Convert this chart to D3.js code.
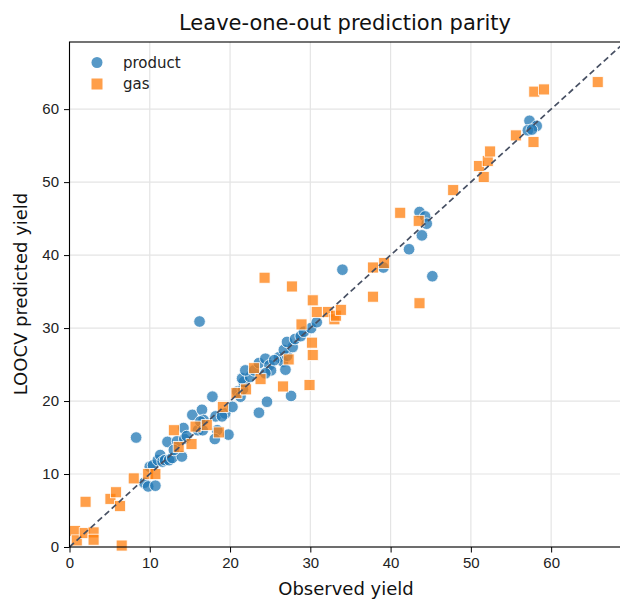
<!DOCTYPE html>
<html>
<head>
<meta charset="utf-8">
<script src="https://cdn.jsdelivr.net/npm/d3@7"></script>
<style>
  body { margin: 0; background: #fff; }
  svg { font-family: "DejaVu Sans", sans-serif; }
</style>
</head>
<body>
<svg id="chart" width="620" height="599"></svg>
<script>
// observed / predicted pairs
var productObs = [8.3, 9.3, 9.8, 10.7, 10.0, 10.4, 11.0, 11.3, 11.6, 11.9, 12.4, 12.8, 12.2, 13.4, 14.0, 14.3, 14.2, 14.6, 15.3, 16.0,
    16.5, 16.7, 16.3, 16.6, 17.8, 18.2, 19.4, 18.4, 18.1, 19.8, 20.3, 20.9, 21.3, 21.6, 21.7, 21.5, 22.5, 21.9, 23.0, 23.6,
    24.4, 24.9, 25.1, 24.4, 23.6, 24.6, 26.1, 26.6, 27.1, 26.9, 27.6, 26.7, 27.8, 27.1, 28.1, 28.8, 29.2, 30.1, 30.8, 16.2,
    34.0, 39.1, 42.3, 43.9, 43.6, 44.3, 44.5, 45.2, 57.3, 58.2, 57.1, 57.6, 19.0, 13.0, 25.5];
var productPred = [15.0, 8.8, 8.3, 8.4, 11.0, 11.2, 11.9, 12.6, 11.7, 11.9, 11.9, 12.2, 14.4, 14.5, 12.4, 14.8, 16.3, 15.2, 18.1, 16.0,
    18.8, 17.4, 17.2, 16.0, 20.6, 17.9, 18.3, 16.0, 14.8, 15.4, 19.2, 21.3, 20.6, 21.6, 22.6, 23.1, 23.3, 24.2, 24.2, 25.2,
    25.8, 24.9, 24.2, 23.8, 18.4, 19.9, 26.0, 25.4, 26.2, 24.3, 20.7, 27.0, 27.4, 28.1, 28.5, 28.9, 29.5, 30.0, 30.8, 30.9,
    38.0, 38.3, 40.8, 42.7, 45.9, 45.3, 44.3, 37.1, 58.4, 57.7, 57.1, 57.2, 17.9, 13.3, 25.6];

var gasObs = [0.7, 0.9, 1.9, 3.0, 3.0, 6.5, 2.0, 5.1, 5.8, 6.3, 8.0, 9.8, 10.7, 13.0, 13.6, 15.2, 15.7, 17.1, 18.6, 19.1,
    20.8, 22.0, 23.0, 23.8, 26.6, 27.3, 29.9, 30.2, 30.3, 28.9, 24.3, 27.7, 30.3, 30.8, 32.2, 33.0, 33.2, 33.8, 37.8, 39.2,
    37.8, 43.6, 41.2, 43.5, 47.8, 51.0, 51.6, 52.1, 52.4, 55.6, 57.8, 57.9, 59.1, 65.8];
var gasPred = [2.2, 0.9, 1.9, 2.0, 1.0, 0.2, 6.2, 6.6, 7.5, 5.6, 9.4, 10.0, 10.0, 16.0, 13.7, 14.1, 16.5, 16.7, 15.7, 19.2,
    21.1, 21.6, 24.5, 23.0, 22.0, 25.7, 22.2, 28.0, 26.3, 30.5, 36.9, 35.7, 33.8, 32.2, 32.2, 31.2, 31.7, 32.5, 38.3, 38.9,
    34.3, 33.4, 45.8, 44.7, 48.9, 52.2, 50.7, 52.9, 54.2, 56.4, 55.5, 62.4, 62.7, 63.7];

var ticks = [0, 10, 20, 30, 40, 50, 60];
var lim = 69.2;

var svg = d3.select("#chart");
var margin = {left: 69.5, top: 42, right: 625, bottom: 547};

var x = d3.scaleLinear().domain([0, lim]).range([margin.left, margin.right]);
var y = d3.scaleLinear().domain([0, lim]).range([margin.bottom, margin.top]);

// grid
var g = svg.append("g");
g.selectAll(".gx").data(ticks).enter().append("line")
    .attr("x1", d => x(d)).attr("x2", d => x(d))
    .attr("y1", margin.top).attr("y2", margin.bottom)
    .attr("stroke", "#e4e4e4").attr("stroke-width", 1.2);
g.selectAll(".gy").data(ticks).enter().append("line")
    .attr("y1", d => y(d)).attr("y2", d => y(d))
    .attr("x1", margin.left).attr("x2", margin.right)
    .attr("stroke", "#e4e4e4").attr("stroke-width", 1.2);

// points
var product = productObs.map((d, i) => [d, productPred[i]]);
var gas = gasObs.map((d, i) => [d, gasPred[i]]);

svg.append("g").selectAll("circle").data(product).enter().append("circle")
    .attr("cx", d => x(d[0])).attr("cy", d => y(d[1])).attr("r", 5.8)
    .attr("fill", "#1f77b4").attr("fill-opacity", 0.75)
    .attr("stroke", "#fff").attr("stroke-width", 0.8);

var sq = 11;
svg.append("g").selectAll("rect").data(gas).enter().append("rect")
    .attr("x", d => x(d[0]) - sq / 2).attr("y", d => y(d[1]) - sq / 2)
    .attr("width", sq).attr("height", sq)
    .attr("fill", "#ff7f0e").attr("fill-opacity", 0.75)
    .attr("stroke", "#fff").attr("stroke-width", 0.8);

// parity line
svg.append("line")
    .attr("x1", x(0)).attr("y1", y(0)).attr("x2", x(lim)).attr("y2", y(lim))
    .attr("stroke", "#475063")
    .attr("stroke-width", 1.7).attr("stroke-dasharray", "6,3.5");

// axes
var xAxis = d3.axisBottom(x).tickValues(ticks).tickSize(5.5).tickPadding(5);
var yAxis = d3.axisLeft(y).tickValues(ticks).tickSize(5.5).tickPadding(5);
svg.append("g").attr("transform", "translate(0," + margin.bottom + ")").call(xAxis)
    .call(a => a.select(".domain").remove())
    .selectAll("text").attr("font-size", 15).attr("fill", "#222");
svg.append("g").attr("transform", "translate(" + margin.left + ",0)").call(yAxis)
    .call(a => a.select(".domain").remove())
    .selectAll("text").attr("font-size", 15).attr("fill", "#222");

// frame
svg.append("rect")
    .attr("x", margin.left).attr("y", margin.top)
    .attr("width", margin.right - margin.left).attr("height", margin.bottom - margin.top)
    .attr("fill", "none").attr("stroke", "#000").attr("stroke-width", 1.1);

// labels
svg.append("text").attr("x", 345).attr("y", 30).attr("text-anchor", "middle")
    .attr("font-size", 21).attr("fill", "#111").text("Leave-one-out prediction parity");
svg.append("text").attr("x", 346).attr("y", 595).attr("text-anchor", "middle")
    .attr("font-size", 18).attr("fill", "#111").text("Observed yield");
svg.append("text").attr("transform", "translate(27,294) rotate(-90)").attr("text-anchor", "middle")
    .attr("font-size", 18).attr("fill", "#111").text("LOOCV predicted yield");

// legend
var leg = svg.append("g");
leg.append("circle").attr("cx", 97).attr("cy", 62.5).attr("r", 5.5)
    .attr("fill", "#1f77b4").attr("fill-opacity", 0.75);
leg.append("rect").attr("x", 91.5).attr("y", 78.5).attr("width", 11).attr("height", 11)
    .attr("fill", "#ff7f0e").attr("fill-opacity", 0.75);
leg.append("text").attr("x", 123).attr("y", 67.5).attr("font-size", 15).attr("fill", "#222").text("product");
leg.append("text").attr("x", 123).attr("y", 89).attr("font-size", 15).attr("fill", "#222").text("gas");
</script>
</body>
</html>
